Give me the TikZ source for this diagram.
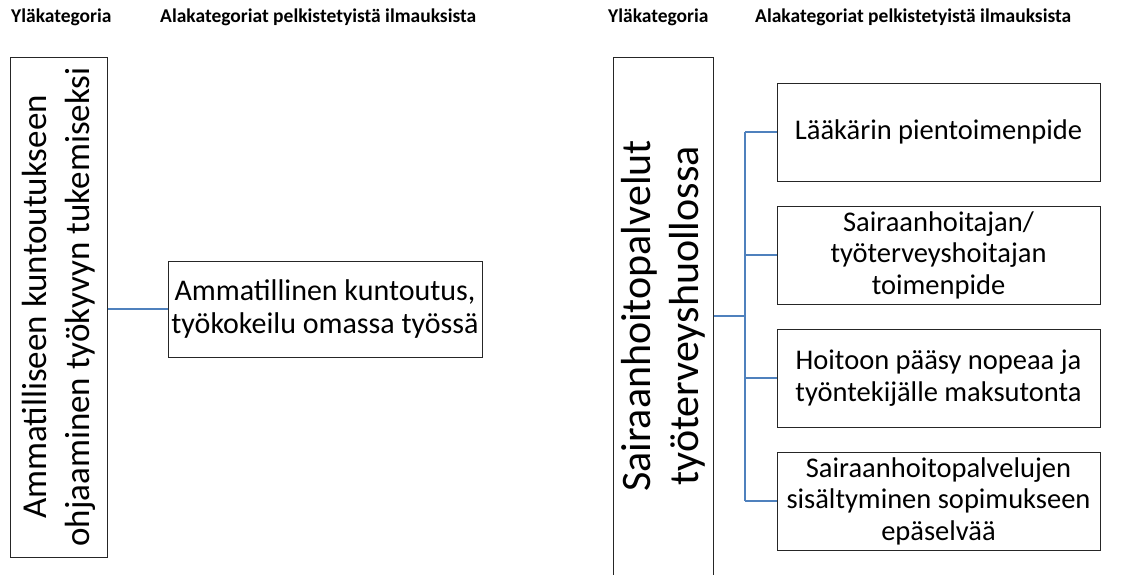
\documentclass[tikz,border=0pt]{standalone}
\usepackage{fontspec}
\setmainfont{Carlito}
\definecolor{connblue}{HTML}{4F81BD}
\begin{document}
\begin{tikzpicture}[x=1pt,y=-1pt,
  hdr/.style={anchor=west,inner sep=0pt,font=\bfseries\fontsize{19.5}{23}\selectfont},
  bigbox/.style={draw=black!85,line width=1pt,rotate=90,align=center,inner sep=0pt},
  subbox/.style={draw=black!85,line width=1pt,align=center,inner sep=0pt,
     minimum width=323pt,minimum height=98pt,font=\fontsize{28.5}{31.6}\selectfont},
  conn/.style={draw=connblue,line width=1.4pt}]
\useasboundingbox (0,0) rectangle (1125,574);
% headers
\node[hdr] (h1) at (11,17) {Yläkategoria};
\node[hdr] (h2) at (160,17) {Alakategoriat pelkistetyistä ilmauksista};
\node[hdr] (h3) at (608,17) {Yläkategoria};
\node[hdr] (h4) at (755,17) {Alakategoriat pelkistetyistä ilmauksista};
% left part
\node[bigbox,minimum width=500pt,minimum height=97pt,font=\fontsize{35}{43}\selectfont] (L) at (58.5,307)
  {Ammatilliseen kuntoutukseen\\ohjaaminen työkyvyn tukemiseksi};
\node[subbox,minimum width=314pt,minimum height=96pt,font=\fontsize{30}{33}\selectfont] (S) at (325,309)
  {Ammatillinen kuntoutus,\\työkokeilu omassa työssä};
\draw[conn] (L.south |- S.west) -- (S.west);
% right part
\node[bigbox,minimum width=518pt,minimum height=100pt,font=\fontsize{42}{48}\selectfont] (R) at (663,316)
  {Sairaanhoitopalvelut\\työterveyshuollossa};
\node[subbox] (c1) at (938.5,132) {Lääkärin pientoimenpide};
\node[subbox] (c2) at (938.5,255) {Sairaanhoitajan/\\työterveyshoitajan\\toimenpide};
\node[subbox] (c3) at (938.5,378) {Hoitoon pääsy nopeaa ja\\työntekijälle maksutonta};
\node[subbox] (c4) at (938.5,501) {Sairaanhoitopalvelujen\\sisältyminen sopimukseen\\epäselvää};
\coordinate (bus) at (745,316);
\draw[conn] (R.south) -- (bus);
\draw[conn] (bus |- c1.west) -- (bus |- c4.west);
\draw[conn] (bus |- c1.west) -- (c1.west);
\draw[conn] (bus |- c2.west) -- (c2.west);
\draw[conn] (bus |- c3.west) -- (c3.west);
\draw[conn] (bus |- c4.west) -- (c4.west);
\end{tikzpicture}
\end{document}
